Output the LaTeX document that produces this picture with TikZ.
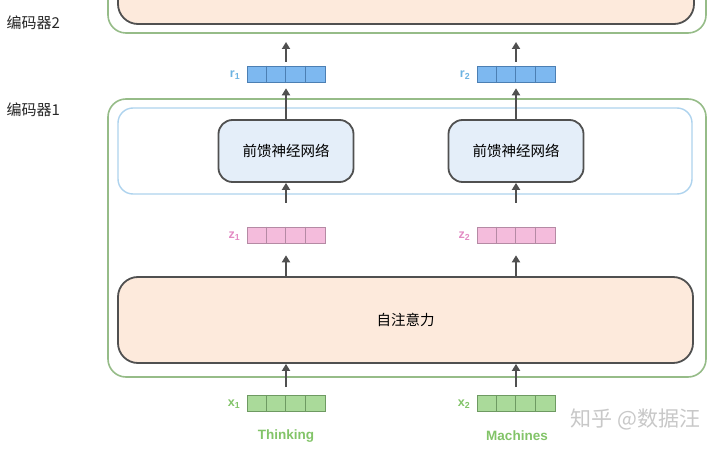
\documentclass[tikz,border=0pt]{standalone}
\usepackage{fontspec}
\setmainfont{Liberation Sans}
\newfontfamily\cjk{Noto Sans CJK SC}
\usetikzlibrary{arrows.meta}
\definecolor{grn}{HTML}{96BC88}
\definecolor{blu}{HTML}{AED3EE}
\definecolor{dk}{HTML}{505050}
\definecolor{ffnfill}{HTML}{E4EEF9}
\definecolor{orfill}{HTML}{FDEADC}
\definecolor{rfill}{HTML}{7DB8F0}
\definecolor{rdraw}{HTML}{4C7FB3}
\definecolor{zfill}{HTML}{F4BCDC}
\definecolor{zdraw}{HTML}{B58AA4}
\definecolor{xfill}{HTML}{AADA9A}
\definecolor{xdraw}{HTML}{6E9A62}
\definecolor{rlab}{HTML}{6CB3E2}
\definecolor{zlab}{HTML}{E38CC4}
\definecolor{xlab}{HTML}{82C468}
\definecolor{wm}{HTML}{C8C8C8}
\tikzset{
  outer/.style={draw=grn, line width=1.6pt, rounded corners=18pt},
  layerbox/.style={draw=blu, line width=1.4pt, rounded corners=15pt},
  ffn/.style={draw=dk, fill=ffnfill, line width=1.8pt, rounded corners=14pt,
    minimum width=135pt, minimum height=62pt, inner sep=0pt,
    font=\cjk\fontsize{14.5}{15}\selectfont},
  attn/.style={draw=dk, fill=orfill, line width=1.8pt, rounded corners=20pt},
  vecbox/.style={minimum width=78pt, minimum height=16pt, inner sep=0pt, line width=0.6pt},
  flow/.style={draw=dk, line width=2.2pt, -{Triangle[length=7pt,width=8pt]}},
  enclabel/.style={font=\cjk\fontsize{15}{16}\selectfont, text=black!85, anchor=west},
  veclabel/.style={font=\bfseries\fontsize{12.5}{12}\selectfont, anchor=east},
  word/.style={font=\bfseries\fontsize{13.5}{14}\selectfont, text=xlab},
}
\newcommand\cellvec[5]{%
  \node[vecbox, fill=#4, draw=#5] (#1) at (#2,#3) {};
  \foreach \s in {19.5,39,58.5}
    \draw[#5, line width=0.6pt] ([xshift=\s pt]#1.north west) -- ([xshift=\s pt]#1.south west);
}
\begin{document}
\begin{tikzpicture}[x=1pt,y=-1pt]
\useasboundingbox (0,0) rectangle (720,449);
\clip (0,0) rectangle (720,449);
\fill[white] (0,0) rectangle (720,449);

% encoder 2 (cut off at top)
\draw[outer] (108,-60) rectangle (706,33);
\draw[attn] (118,-60) rectangle (694,24);
\coordinate (enc2) at (286,33);
\coordinate (enc2b) at (516,33);
\node[enclabel] (l2) at (3,23) {编码器2};

% encoder 1
\draw[outer] (108,99) rectangle (706,377);
\draw[layerbox] (118,108) rectangle (692,194);
\node[enclabel] (l1) at (3,110) {编码器1};

\node[ffn] (f1) at (286,151) {前馈神经网络};
\node[ffn] (f2) at (516,151) {前馈神经网络};

\node[attn, minimum width=575pt, minimum height=86pt, font=\cjk\fontsize{14.5}{15}\selectfont] (att) at (405.5,320) {自注意力};

% vectors
\cellvec{r1}{286}{74}{rfill}{rdraw}
\cellvec{r2}{516}{74}{rfill}{rdraw}
\cellvec{z1}{286}{235}{zfill}{zdraw}
\cellvec{z2}{516}{235}{zfill}{zdraw}
\cellvec{x1}{286}{403.5}{xfill}{xdraw}
\cellvec{x2}{516}{403.5}{xfill}{xdraw}

\node[veclabel, text=rlab] (lr1) at ([xshift=-3pt,yshift=-1pt]r1.west) {r\textsubscript{1}};
\node[veclabel, text=rlab] (lr2) at ([xshift=-3pt,yshift=-1pt]r2.west) {r\textsubscript{2}};
\node[veclabel, text=zlab] (lz1) at ([xshift=-3pt,yshift=-1pt]z1.west) {z\textsubscript{1}};
\node[veclabel, text=zlab] (lz2) at ([xshift=-3pt,yshift=-1pt]z2.west) {z\textsubscript{2}};
\node[veclabel, text=xlab] (lx1) at ([xshift=-3pt,yshift=-1pt]x1.west) {x\textsubscript{1}};
\node[veclabel, text=xlab] (lx2) at ([xshift=-3pt,yshift=-1pt]x2.west) {x\textsubscript{2}};

\node[word] (w1) at (286,436) {Thinking};
\node[word] (w2) at (517,436) {Machines};

% arrows
\draw[flow, shorten <=8pt] (x1.north) -- (x1.north |- att.south);
\draw[flow, shorten <=8pt] (x2.north) -- (x2.north |- att.south);
\draw[flow, shorten >=12pt] (z1.south |- att.north) -- (z1.south);
\draw[flow, shorten >=12pt] (z2.south |- att.north) -- (z2.south);
\draw[flow, shorten <=24pt] (z1.north) -- (f1.south);
\draw[flow, shorten <=24pt] (z2.north) -- (f2.south);
\draw[flow, shorten >=6pt] (f1.north) -- (r1.south);
\draw[flow, shorten >=6pt] (f2.north) -- (r2.south);
\draw[flow, shorten <=4pt, shorten >=9pt] (r1.north) -- (enc2);
\draw[flow, shorten <=4pt, shorten >=9pt] (r2.north) -- (enc2b);

% watermark
\node[font=\cjk\fontsize{21}{22}\selectfont, text=wm, anchor=west] (wmk) at (567,419) {知乎 @数据汪};
\end{tikzpicture}
\end{document}
